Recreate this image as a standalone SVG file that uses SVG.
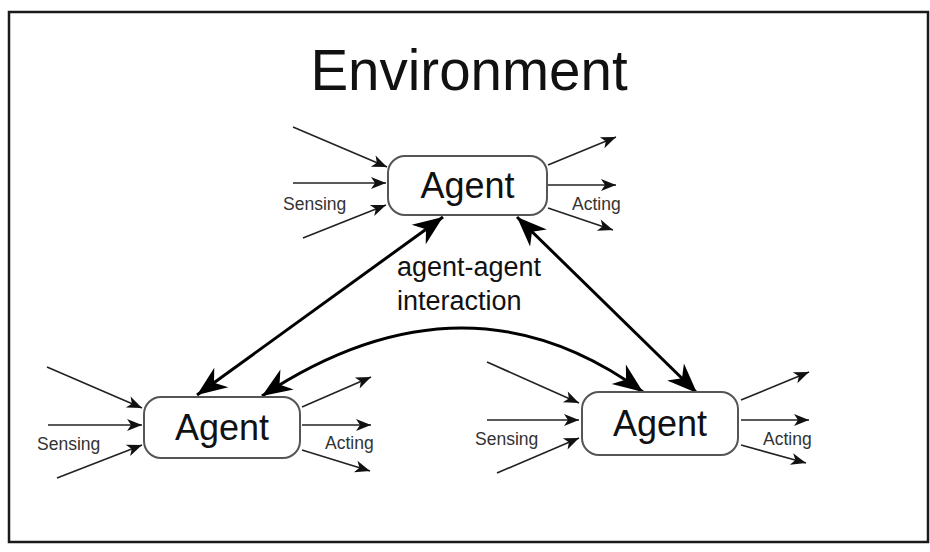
<svg xmlns="http://www.w3.org/2000/svg" width="930" height="552" viewBox="0 0 930 552">
<defs>
<marker id="big" viewBox="-32 -14 34 28" refX="0" refY="0" markerWidth="34" markerHeight="28" markerUnits="userSpaceOnUse" orient="auto-start-reverse">
<path d="M0,0 L-30,-12 L-21,0 L-30,12 Z" fill="#000"/>
</marker>
<marker id="small" viewBox="-16 -7 17 14" refX="0" refY="0" markerWidth="17" markerHeight="14" markerUnits="userSpaceOnUse" orient="auto">
<path d="M0,0 L-15,-6 L-11,0 L-15,6 Z" fill="#111"/>
</marker>
<style>
.box{fill:#fff;stroke:#555;stroke-width:2}
.name{font-family:"Liberation Sans",Arial,sans-serif;font-size:36px;fill:#111;text-anchor:middle}
.lbl{font-family:"Liberation Sans",Arial,sans-serif;font-size:17.5px;fill:#333}
.thin{stroke:#222;stroke-width:1.6;fill:none;marker-end:url(#small)}
.thick{stroke:#000;stroke-width:3;fill:none;marker-start:url(#big);marker-end:url(#big)}
.big{font-family:"Liberation Sans",Arial,sans-serif;fill:#111}
</style>
</defs>
<rect x="0" y="0" width="930" height="552" fill="#fff"/>
<rect x="9" y="12" width="919" height="530" fill="#fff" stroke="#1a1a1a" stroke-width="2.5"/>
<text class="big" x="469" y="90" font-size="56.5" text-anchor="middle">Environment</text>
<g id="connectors">
<path class="thin" d="M293,127 L387,167"/>
<path class="thin" d="M293,183 L386,183"/>
<path class="thin" d="M303,238 L386,205"/>
<path class="thin" d="M548,165 L616,137"/>
<path class="thin" d="M548,185 L616,185"/>
<path class="thin" d="M548,208 L613,230"/>
<path class="thin" d="M47,367 L142,408"/>
<path class="thin" d="M48,425 L142,425"/>
<path class="thin" d="M57,478 L142,445"/>
<path class="thin" d="M302,407 L371,377"/>
<path class="thin" d="M302,425 L371,425"/>
<path class="thin" d="M302,450 L370,471"/>
<path class="thin" d="M487,362 L579,403"/>
<path class="thin" d="M487,420 L579,420"/>
<path class="thin" d="M497,473 L579,438"/>
<path class="thin" d="M741,400 L809,372"/>
<path class="thin" d="M741,420 L809,420"/>
<path class="thin" d="M741,445 L806,463"/>
<path class="thick" d="M443,217 L197,395"/>
<path class="thick" d="M517,217 L697,393"/>
<path class="thick" d="M262,396 Q465,262 643,392"/>
<text class="big" x="397" y="276" font-size="27">agent-agent</text>
<text class="big" x="397" y="310" font-size="27">interaction</text>
</g>
<g id="agent-top">
<rect class="box" x="388" y="156" width="159" height="59" rx="17"/>
<text class="name" x="467.5" y="198">Agent</text>
<text class="lbl" x="283" y="210">Sensing</text>
<text class="lbl" x="572" y="210">Acting</text>
</g>
<g id="agent-left">
<rect class="box" x="144" y="397" width="156" height="61" rx="17"/>
<text class="name" x="222" y="440">Agent</text>
<text class="lbl" x="37" y="450">Sensing</text>
<text class="lbl" x="325" y="449">Acting</text>
</g>
<g id="agent-right">
<rect class="box" x="582" y="392" width="156" height="63" rx="17"/>
<text class="name" x="660" y="436">Agent</text>
<text class="lbl" x="475" y="445">Sensing</text>
<text class="lbl" x="763" y="445">Acting</text>
</g>
</svg>
